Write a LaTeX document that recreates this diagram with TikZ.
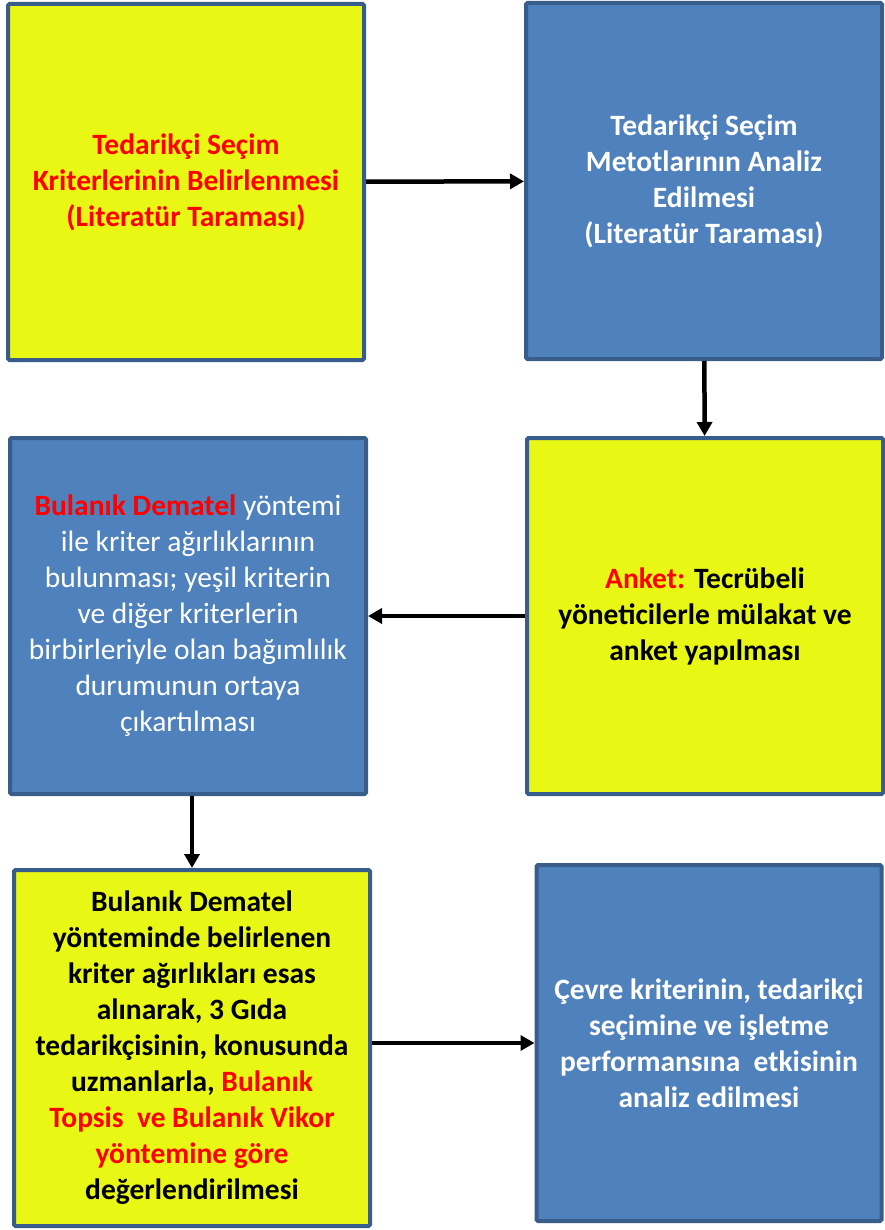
\documentclass[tikz,border=0pt]{standalone}
\usepackage{fontspec}
\setmainfont{Carlito}
\usepackage{tikz}
\usetikzlibrary{arrows.meta}
\usetikzlibrary{positioning}

\definecolor{boxyellow}{HTML}{E8F714}
\definecolor{boxblue}{HTML}{4F81BD}
\definecolor{boxedge}{HTML}{385D8A}
\definecolor{hired}{HTML}{FF0000}

\begin{document}
\begin{tikzpicture}[x=1pt,y=-1pt,
  stepbox/.style={draw=boxedge, line width=4pt, rounded corners=1.5pt,
    minimum width=356pt, minimum height=356pt, align=center,
    font=\fontsize{29.5}{36}\selectfont},
  ybox/.style={stepbox, fill=boxyellow},
  bbox/.style={stepbox, fill=boxblue, text=white},
  arr/.style={-{Triangle[length=14pt,width=15pt]}, line width=4.5pt, black}]
  \useasboundingbox (0,0) rectangle (885,1230);
  % first row
  \node[ybox, text=hired] (crit) at (186,182)
    {\bfseries Tedarikçi Seçim\\ \bfseries Kriterlerinin Belirlenmesi\\ \bfseries (Literatür Taraması)};
  \node[bbox] (meth) at (704,181)
    {\bfseries Tedarikçi Seçim\\ \bfseries Metotlarının Analiz\\ \bfseries Edilmesi\\ \bfseries (Literatür Taraması)};
  % second row
  \node[bbox] (demat) at (188,616)
    {{\color{hired}\bfseries Bulanık Dematel} yöntemi\\ ile kriter ağırlıklarının\\
     bulunması; yeşil kriterin\\ ve diğer kriterlerin\\ birbirleriyle olan bağımlılık\\
     durumunun ortaya\\ çıkartılması};
  \node[ybox, font=\fontsize{29.5}{36}\selectfont\bfseries] (survey) at (705,616)
    {{\color{hired}Anket:} Tecrübeli\\ yöneticilerle mülakat ve\\ anket yapılması};
  % third row
  \node[ybox, font=\fontsize{29.5}{36}\selectfont\bfseries] (rank) at (192,1048)
    {Bulanık Dematel\\ yönteminde belirlenen\\ kriter ağırlıkları esas\\ alınarak, 3 Gıda\\
     tedarikçisinin, konusunda\\ uzmanlarla, {\color{hired}Bulanık}\\
     {\color{hired}Topsis\ \ ve Bulanık Vikor}\\ {\color{hired}yöntemine göre}\\ değerlendirilmesi};
  \node[bbox, font=\fontsize{29.5}{36}\selectfont\bfseries,
    minimum width=345pt] (env) at (709,1043)
    {Çevre kriterinin, tedarikçi\\ seçimine ve işletme\\ performansına\ \ etkisinin\\ analiz edilmesi};
  % connectors
  \draw[arr] (crit) -- (meth);
  \draw[arr] (meth) -- (survey);
  \draw[arr] (survey) -- (demat);
  \draw[arr] (rank.north |- demat.south) -- (rank.north);
  \draw[arr] (rank.east |- env.west) -- (env.west);
\end{tikzpicture}
\end{document}
